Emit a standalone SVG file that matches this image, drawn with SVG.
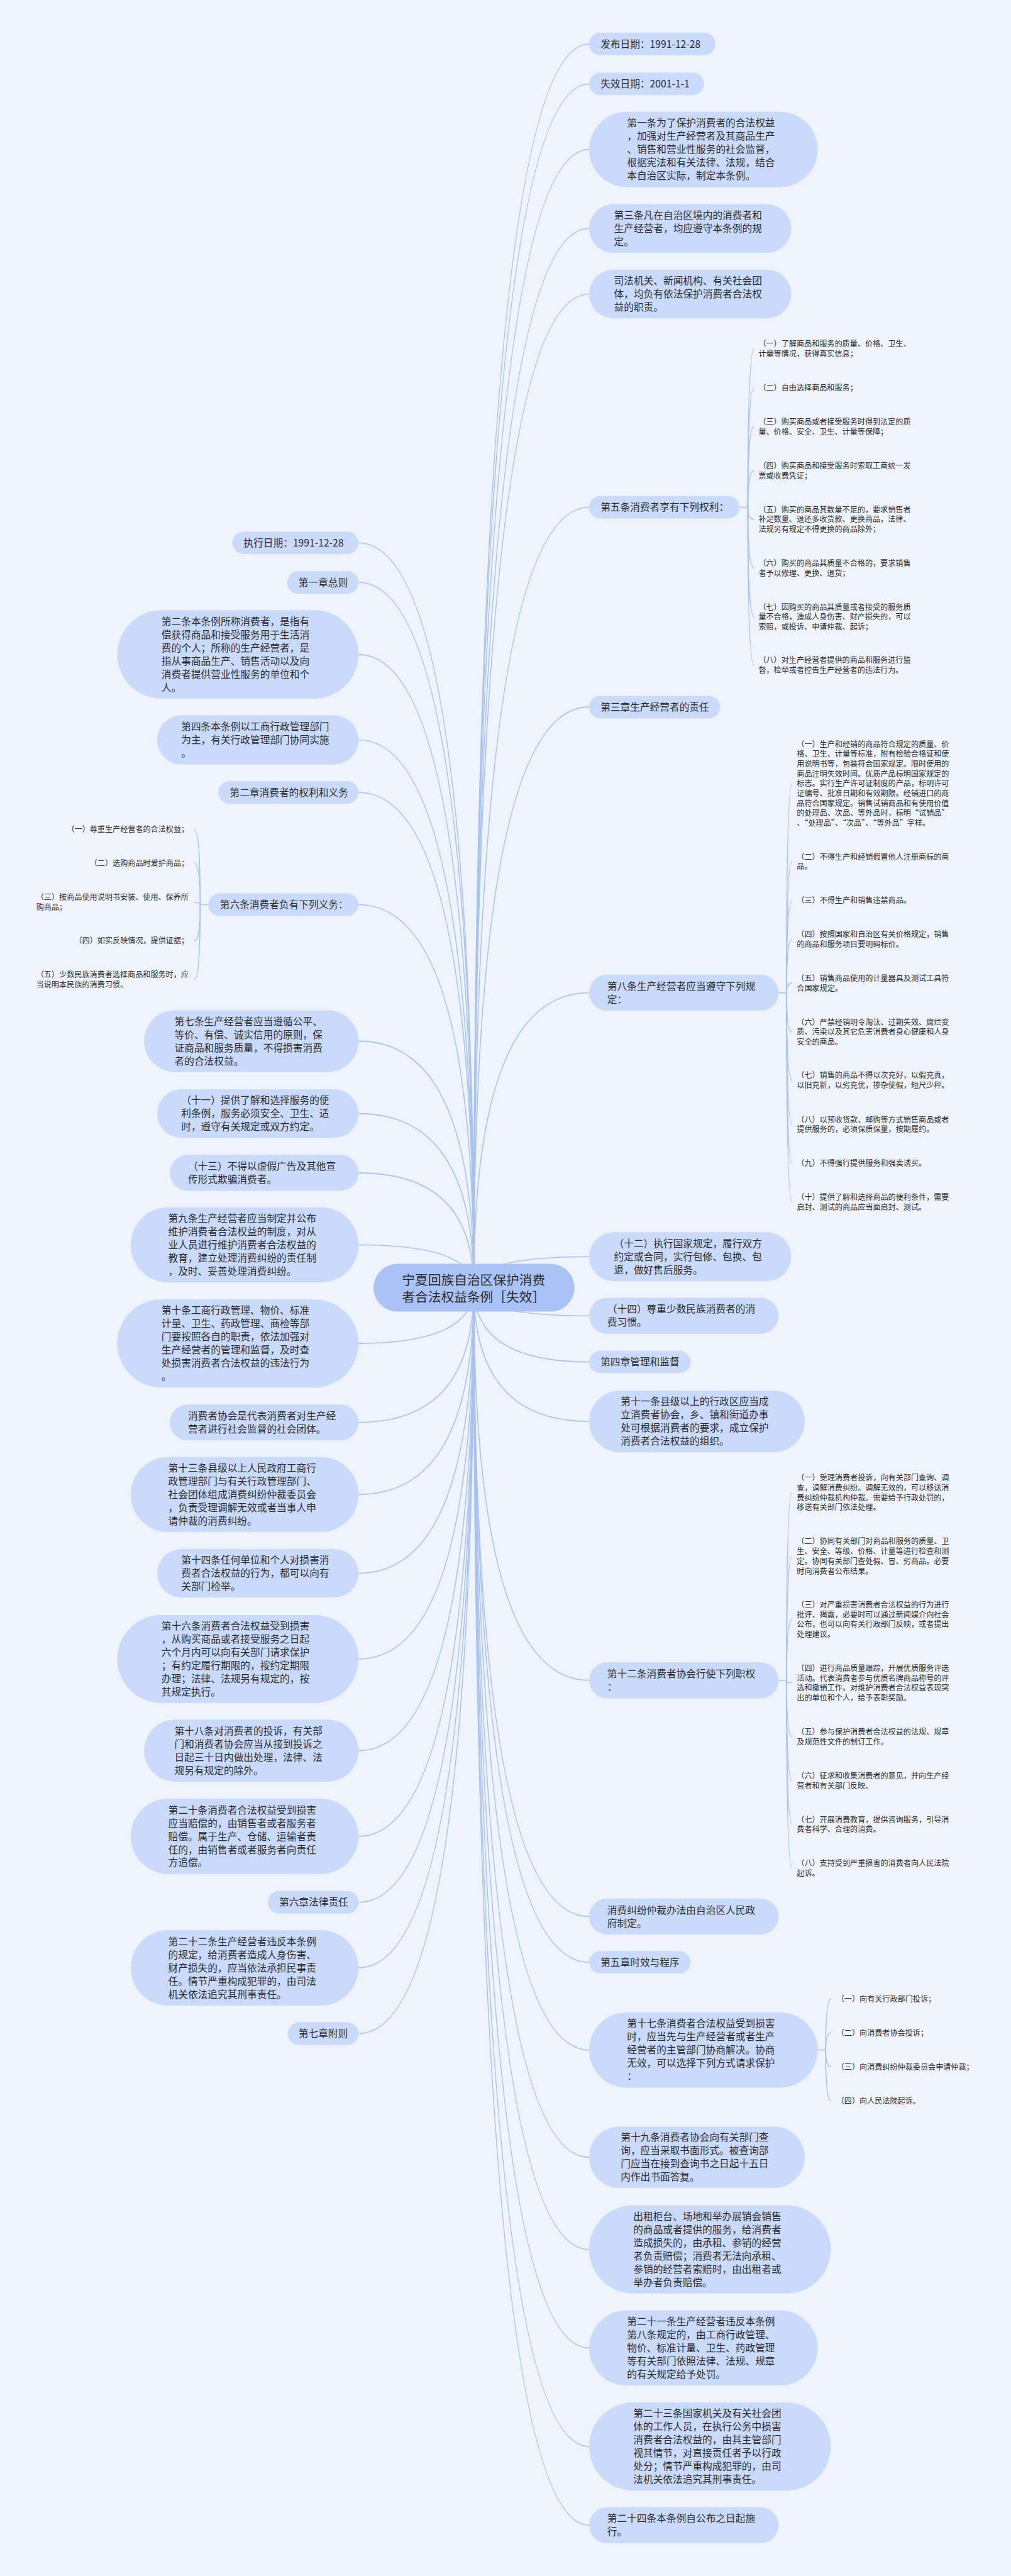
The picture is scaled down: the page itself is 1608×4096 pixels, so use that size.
<svg xmlns="http://www.w3.org/2000/svg" width="1608" height="4096" viewBox="0 0 1608 4096">
<style>
.nd{fill:#c9dafb}
.rt{fill:#aac3f7}
.t{font-family:"Noto Sans CJK SC","Noto Sans",sans-serif;font-size:25px;fill:#2d2d2d}
.s{font-size:19.3px}
.r{font-size:33px}
.e{text-anchor:end}
.ln{fill:none;stroke:#a8c2ef;stroke-width:2.5}
</style>
<rect x="0" y="0" width="1608" height="4096" fill="#eef3fc"/>
<g transform="scale(0.628)">
<g id="connectors">
<path class="ln" d="M1200 3260.5 Q1200 111.5 1492 111.5"/>
<path class="ln" d="M1200 3260.5 Q1200 212.5 1492 212.5"/>
<path class="ln" d="M1200 3260.5 Q1200 378.5 1492 378.5"/>
<path class="ln" d="M1200 3260.5 Q1200 578.5 1492 578.5"/>
<path class="ln" d="M1200 3260.5 Q1200 744.5 1492 744.5"/>
<path class="ln" d="M1200 3260.5 Q1200 1284.5 1492 1284.5"/>
<path class="ln" d="M1200 3260.5 Q1200 1790 1492 1790"/>
<path class="ln" d="M1200 3260.5 Q1200 2513.5 1492 2513.5"/>
<path class="ln" d="M1200 3260.5 Q1200 3182 1492 3182"/>
<path class="ln" d="M1200 3260.5 Q1200 3331.5 1492 3331.5"/>
<path class="ln" d="M1200 3260.5 Q1200 3448.5 1492 3448.5"/>
<path class="ln" d="M1200 3260.5 Q1200 3599 1492 3599"/>
<path class="ln" d="M1200 3260.5 Q1200 4254.5 1492 4254.5"/>
<path class="ln" d="M1200 3260.5 Q1200 4852.5 1492 4852.5"/>
<path class="ln" d="M1200 3260.5 Q1200 4968.5 1492 4968.5"/>
<path class="ln" d="M1200 3260.5 Q1200 5190.5 1492 5190.5"/>
<path class="ln" d="M1200 3260.5 Q1200 5462 1492 5462"/>
<path class="ln" d="M1200 3260.5 Q1200 5695.5 1492 5695.5"/>
<path class="ln" d="M1200 3260.5 Q1200 5945 1492 5945"/>
<path class="ln" d="M1200 3260.5 Q1200 6194.5 1492 6194.5"/>
<path class="ln" d="M1200 3260.5 Q1200 6393.5 1492 6393.5"/>
<path class="ln" d="M1200 3260.5 Q1200 1374.5 908 1374.5"/>
<path class="ln" d="M1200 3260.5 Q1200 1474.5 908 1474.5"/>
<path class="ln" d="M1200 3260.5 Q1200 1657 908 1657"/>
<path class="ln" d="M1200 3260.5 Q1200 1873.5 908 1873.5"/>
<path class="ln" d="M1200 3260.5 Q1200 2006.5 908 2006.5"/>
<path class="ln" d="M1200 3260.5 Q1200 2290.5 908 2290.5"/>
<path class="ln" d="M1200 3260.5 Q1200 2636 908 2636"/>
<path class="ln" d="M1200 3260.5 Q1200 2819.5 908 2819.5"/>
<path class="ln" d="M1200 3260.5 Q1200 2969.5 908 2969.5"/>
<path class="ln" d="M1200 3260.5 Q1200 3152 908 3152"/>
<path class="ln" d="M1200 3260.5 Q1200 3401.5 908 3401.5"/>
<path class="ln" d="M1200 3260.5 Q1200 3601.5 908 3601.5"/>
<path class="ln" d="M1200 3260.5 Q1200 3784 908 3784"/>
<path class="ln" d="M1200 3260.5 Q1200 3983.5 908 3983.5"/>
<path class="ln" d="M1200 3260.5 Q1200 4200.5 908 4200.5"/>
<path class="ln" d="M1200 3260.5 Q1200 4432.5 908 4432.5"/>
<path class="ln" d="M1200 3260.5 Q1200 4649.5 908 4649.5"/>
<path class="ln" d="M1200 3260.5 Q1200 4816.5 908 4816.5"/>
<path class="ln" d="M1200 3260.5 Q1200 4982.5 908 4982.5"/>
<path class="ln" d="M1200 3260.5 Q1200 5149 908 5149"/>
<path class="ln" d="M528 2290.5 L507 2290.5"/>
<path class="ln" d="M507 2290.5 Q507 2100 492 2100"/>
<path class="ln" d="M507 2290.5 Q507 2186 492 2186"/>
<path class="ln" d="M507 2290.5 Q507 2284.5 492 2284.5"/>
<path class="ln" d="M507 2290.5 Q507 2382 492 2382"/>
<path class="ln" d="M507 2290.5 Q507 2480.5 492 2480.5"/>
<path class="ln" d="M1873 1284.5 L1894 1284.5"/>
<path class="ln" d="M1894 1284.5 Q1894 883.5 1910 883.5"/>
<path class="ln" d="M1894 1284.5 Q1894 982 1910 982"/>
<path class="ln" d="M1894 1284.5 Q1894 1080 1910 1080"/>
<path class="ln" d="M1894 1284.5 Q1894 1191.5 1910 1191.5"/>
<path class="ln" d="M1894 1284.5 Q1894 1315 1910 1315"/>
<path class="ln" d="M1894 1284.5 Q1894 1438 1910 1438"/>
<path class="ln" d="M1894 1284.5 Q1894 1562 1910 1562"/>
<path class="ln" d="M1894 1284.5 Q1894 1684.5 1910 1684.5"/>
<path class="ln" d="M1972 2513.5 L1992 2513.5"/>
<path class="ln" d="M1992 2513.5 Q1992 1984 2006 1984"/>
<path class="ln" d="M1992 2513.5 Q1992 2181 2006 2181"/>
<path class="ln" d="M1992 2513.5 Q1992 2280 2006 2280"/>
<path class="ln" d="M1992 2513.5 Q1992 2378.5 2006 2378.5"/>
<path class="ln" d="M1992 2513.5 Q1992 2489.5 2006 2489.5"/>
<path class="ln" d="M1992 2513.5 Q1992 2613 2006 2613"/>
<path class="ln" d="M1992 2513.5 Q1992 2735.5 2006 2735.5"/>
<path class="ln" d="M1992 2513.5 Q1992 2847 2006 2847"/>
<path class="ln" d="M1992 2513.5 Q1992 2946 2006 2946"/>
<path class="ln" d="M1992 2513.5 Q1992 3043.5 2006 3043.5"/>
<path class="ln" d="M1972 4254.5 L1992 4254.5"/>
<path class="ln" d="M1992 4254.5 Q1992 3779 2006 3779"/>
<path class="ln" d="M1992 4254.5 Q1992 3940 2006 3940"/>
<path class="ln" d="M1992 4254.5 Q1992 4100.5 2006 4100.5"/>
<path class="ln" d="M1992 4254.5 Q1992 4261 2006 4261"/>
<path class="ln" d="M1992 4254.5 Q1992 4397.5 2006 4397.5"/>
<path class="ln" d="M1992 4254.5 Q1992 4508.5 2006 4508.5"/>
<path class="ln" d="M1992 4254.5 Q1992 4619 2006 4619"/>
<path class="ln" d="M1992 4254.5 Q1992 4730 2006 4730"/>
<path class="ln" d="M2071 5190.5 L2091 5190.5"/>
<path class="ln" d="M2091 5190.5 Q2091 5061 2105 5061"/>
<path class="ln" d="M2091 5190.5 Q2091 5147 2105 5147"/>
<path class="ln" d="M2091 5190.5 Q2091 5233 2105 5233"/>
<path class="ln" d="M2091 5190.5 Q2091 5319 2105 5319"/>
</g>

<g id="root"><rect class="rt" x="946" y="3200" width="509" height="121" rx="60.5"/>
<text class="t r" x="1018" y="3253"><tspan x="1018">宁夏回族自治区保护消费</tspan><tspan x="1018" dy="43">者合法权益条例［失效］</tspan></text></g>

<g id="r-pub"><rect class="nd" x="1492" y="83" width="320" height="57" rx="28.5"/><text class="t" x="1521" y="120.5">发布日期：1991-12-28</text></g>
<g id="r-exp"><rect class="nd" x="1492" y="184" width="291" height="57" rx="28.5"/><text class="t" x="1521" y="221.5">失效日期：2001-1-1</text></g>
<g id="r-art1"><rect class="nd" x="1492" y="283" width="579" height="191" rx="95.5"/><text class="t" x="1588" y="320.7"><tspan x="1588">第一条为了保护消费者的合法权益</tspan><tspan x="1588" dy="33.4">，加强对生产经营者及其商品生产</tspan><tspan x="1588" dy="33.4">、销售和营业性服务的社会监督，</tspan><tspan x="1588" dy="33.4">根据宪法和有关法律、法规，结合</tspan><tspan x="1588" dy="33.4">本自治区实际，制定本条例。</tspan></text></g>
<g id="r-art3"><rect class="nd" x="1492" y="517" width="512" height="123" rx="61.5"/><text class="t" x="1555" y="554.1"><tspan x="1555">第三条凡在自治区境内的消费者和</tspan><tspan x="1555" dy="33.4">生产经营者，均应遵守本条例的规</tspan><tspan x="1555" dy="33.4">定。</tspan></text></g>
<g id="r-judicial"><rect class="nd" x="1492" y="683" width="512" height="123" rx="61.5"/><text class="t" x="1555" y="720.1"><tspan x="1555">司法机关、新闻机构、有关社会团</tspan><tspan x="1555" dy="33.4">体，均负有依法保护消费者合法权</tspan><tspan x="1555" dy="33.4">益的职责。</tspan></text></g>
<g id="r-art5"><rect class="nd" x="1492" y="1256" width="381" height="57" rx="28.5"/><text class="t" x="1521" y="1293.5">第五条消费者享有下列权利：</text></g>
<g id="r-art5-items">
<text class="t s" x="1921" y="878"><tspan x="1921">（一）了解商品和服务的质量、价格、卫生、</tspan><tspan x="1921" dy="25">计量等情况，获得真实信息；</tspan></text>
<text class="t s" x="1921" y="989">（二）自由选择商品和服务；</text>
<text class="t s" x="1921" y="1075"><tspan x="1921">（三）购买商品或者接受服务时得到法定的质</tspan><tspan x="1921" dy="25">量、价格、安全、卫生、计量等保障；</tspan></text>
<text class="t s" x="1921" y="1186"><tspan x="1921">（四）购买商品和接受服务时索取工商统一发</tspan><tspan x="1921" dy="25">票或收费凭证；</tspan></text>
<text class="t s" x="1921" y="1297"><tspan x="1921">（五）购买的商品其数量不足的，要求销售者</tspan><tspan x="1921" dy="25">补足数量、退还多收货款、更换商品，法律、</tspan><tspan x="1921" dy="25">法规另有规定不得更换的商品除外；</tspan></text>
<text class="t s" x="1921" y="1433"><tspan x="1921">（六）购买的商品其质量不合格的，要求销售</tspan><tspan x="1921" dy="25">者予以修理、更换、退货；</tspan></text>
<text class="t s" x="1921" y="1544"><tspan x="1921">（七）因购买的商品其质量或者接受的服务质</tspan><tspan x="1921" dy="25">量不合格，造成人身伤害、财产损失的，可以</tspan><tspan x="1921" dy="25">索赔，或投诉、申请仲裁、起诉；</tspan></text>
<text class="t s" x="1921" y="1679"><tspan x="1921">（八）对生产经营者提供的商品和服务进行监</tspan><tspan x="1921" dy="25">督，检举或者控告生产经营者的违法行为。</tspan></text>
</g>
<g id="r-ch3"><rect class="nd" x="1492" y="1762" width="332" height="57" rx="28.5"/><text class="t" x="1521" y="1799">第三章生产经营者的责任</text></g>
<g id="r-art8"><rect class="nd" x="1492" y="2468" width="480" height="91" rx="45.5"/><text class="t" x="1538" y="2505.8"><tspan x="1538">第八条生产经营者应当遵守下列规</tspan><tspan x="1538" dy="33.4">定：</tspan></text></g>
<g id="r-art8-items">
<text class="t s" x="2018" y="1891"><tspan x="2018">（一）生产和经销的商品符合规定的质量、价</tspan><tspan x="2018" dy="25">格、卫生、计量等标准，附有检验合格证和使</tspan><tspan x="2018" dy="25">用说明书等，包装符合国家规定。限时使用的</tspan><tspan x="2018" dy="25">商品注明失效时间。优质产品标明国家规定的</tspan><tspan x="2018" dy="25">标志。实行生产许可证制度的产品，标明许可</tspan><tspan x="2018" dy="25">证编号、批准日期和有效期限。经销进口的商</tspan><tspan x="2018" dy="25">品符合国家规定。销售试销商品和有使用价值</tspan><tspan x="2018" dy="25">的处理品、次品、等外品时，标明“试销品”</tspan><tspan x="2018" dy="25">、“处理品”、“次品”、“等外品”字样。</tspan></text>
<text class="t s" x="2018" y="2176"><tspan x="2018">（二）不得生产和经销假冒他人注册商标的商</tspan><tspan x="2018" dy="25">品。</tspan></text>
<text class="t s" x="2018" y="2287">（三）不得生产和销售违禁商品。</text>
<text class="t s" x="2018" y="2373"><tspan x="2018">（四）按照国家和自治区有关价格规定，销售</tspan><tspan x="2018" dy="25">的商品和服务项目要明码标价。</tspan></text>
<text class="t s" x="2018" y="2484"><tspan x="2018">（五）销售商品使用的计量器具及测试工具符</tspan><tspan x="2018" dy="25">合国家规定。</tspan></text>
<text class="t s" x="2018" y="2595"><tspan x="2018">（六）严禁经销明令淘汰、过期失效、腐烂变</tspan><tspan x="2018" dy="25">质、污染以及其它危害消费者身心健康和人身</tspan><tspan x="2018" dy="25">安全的商品。</tspan></text>
<text class="t s" x="2018" y="2730"><tspan x="2018">（七）销售的商品不得以次充好，以假充真，</tspan><tspan x="2018" dy="25">以旧充新，以劣充优，掺杂使假，短尺少秤。</tspan></text>
<text class="t s" x="2018" y="2842"><tspan x="2018">（八）以预收货款、邮购等方式销售商品或者</tspan><tspan x="2018" dy="25">提供服务的，必须保质保量，按期履约。</tspan></text>
<text class="t s" x="2018" y="2953">（九）不得强行提供服务和强卖诱买。</text>
<text class="t s" x="2018" y="3038"><tspan x="2018">（十）提供了解和选择商品的便利条件，需要</tspan><tspan x="2018" dy="25">启封、测试的商品应当面启封、测试。</tspan></text>
</g>
<g id="r-item12"><rect class="nd" x="1492" y="3120" width="512" height="124" rx="62"/><text class="t" x="1555" y="3157.6"><tspan x="1555">（十二）执行国家规定，履行双方</tspan><tspan x="1555" dy="33.4">约定或合同，实行包修、包换、包</tspan><tspan x="1555" dy="33.4">退，做好售后服务。</tspan></text></g>
<g id="r-item14"><rect class="nd" x="1492" y="3286" width="480" height="91" rx="45.5"/><text class="t" x="1538" y="3323.8"><tspan x="1538">（十四）尊重少数民族消费者的消</tspan><tspan x="1538" dy="33.4">费习惯。</tspan></text></g>
<g id="r-ch4"><rect class="nd" x="1492" y="3420" width="257" height="57" rx="28.5"/><text class="t" x="1521" y="3457.5">第四章管理和监督</text></g>
<g id="r-art11"><rect class="nd" x="1492" y="3521" width="546" height="156" rx="78"/><text class="t" x="1572" y="3557.9"><tspan x="1572">第十一条县级以上的行政区应当成</tspan><tspan x="1572" dy="33.4">立消费者协会，乡、镇和街道办事</tspan><tspan x="1572" dy="33.4">处可根据消费者的要求，成立保护</tspan><tspan x="1572" dy="33.4">消费者合法权益的组织。</tspan></text></g>
<g id="r-art12"><rect class="nd" x="1492" y="4209" width="480" height="91" rx="45.5"/><text class="t" x="1538" y="4246.8"><tspan x="1538">第十二条消费者协会行使下列职权</tspan><tspan x="1538" dy="33.4">：</tspan></text></g>
<g id="r-art12-items">
<text class="t s" x="2018" y="3749"><tspan x="2018">（一）受理消费者投诉，向有关部门查询、调</tspan><tspan x="2018" dy="25">查，调解消费纠纷。调解无效的，可以移送消</tspan><tspan x="2018" dy="25">费纠纷仲裁机构仲裁。需要给予行政处罚的，</tspan><tspan x="2018" dy="25">移送有关部门依法处理。</tspan></text>
<text class="t s" x="2018" y="3910"><tspan x="2018">（二）协同有关部门对商品和服务的质量、卫</tspan><tspan x="2018" dy="25">生、安全、等级、价格、计量等进行检查和测</tspan><tspan x="2018" dy="25">定。协同有关部门查处假、冒、劣商品。必要</tspan><tspan x="2018" dy="25">时向消费者公布结果。</tspan></text>
<text class="t s" x="2018" y="4070"><tspan x="2018">（三）对严重损害消费者合法权益的行为进行</tspan><tspan x="2018" dy="25">批评、揭露，必要时可以通过新闻媒介向社会</tspan><tspan x="2018" dy="25">公布，也可以向有关行政部门反映，或者提出</tspan><tspan x="2018" dy="25">处理建议。</tspan></text>
<text class="t s" x="2018" y="4231"><tspan x="2018">（四）进行商品质量跟踪，开展优质服务评选</tspan><tspan x="2018" dy="25">活动。代表消费者参与优质名牌商品称号的评</tspan><tspan x="2018" dy="25">选和撤销工作。对维护消费者合法权益表现突</tspan><tspan x="2018" dy="25">出的单位和个人，给予表彰奖励。</tspan></text>
<text class="t s" x="2018" y="4392"><tspan x="2018">（五）参与保护消费者合法权益的法规、规章</tspan><tspan x="2018" dy="25">及规范性文件的制订工作。</tspan></text>
<text class="t s" x="2018" y="4503"><tspan x="2018">（六）征求和收集消费者的意见，并向生产经</tspan><tspan x="2018" dy="25">营者和有关部门反映。</tspan></text>
<text class="t s" x="2018" y="4614"><tspan x="2018">（七）开展消费教育，提供咨询服务，引导消</tspan><tspan x="2018" dy="25">费者科学、合理的消费。</tspan></text>
<text class="t s" x="2018" y="4725"><tspan x="2018">（八）支持受到严重损害的消费者向人民法院</tspan><tspan x="2018" dy="25">起诉。</tspan></text>
</g>
<g id="r-arbitration"><rect class="nd" x="1492" y="4807" width="480" height="91" rx="45.5"/><text class="t" x="1538" y="4844.8"><tspan x="1538">消费纠纷仲裁办法由自治区人民政</tspan><tspan x="1538" dy="33.4">府制定。</tspan></text></g>
<g id="r-ch5"><rect class="nd" x="1492" y="4940" width="257" height="57" rx="28.5"/><text class="t" x="1521" y="4977.5">第五章时效与程序</text></g>
<g id="r-art17"><rect class="nd" x="1492" y="5095" width="579" height="191" rx="95.5"/><text class="t" x="1588" y="5132.7"><tspan x="1588">第十七条消费者合法权益受到损害</tspan><tspan x="1588" dy="33.4">时，应当先与生产经营者或者生产</tspan><tspan x="1588" dy="33.4">经营者的主管部门协商解决。协商</tspan><tspan x="1588" dy="33.4">无效，可以选择下列方式请求保护</tspan><tspan x="1588" dy="33.4">：</tspan></text></g>
<g id="r-art17-items">
<text class="t s" x="2119" y="5068">（一）向有关行政部门投诉；</text>
<text class="t s" x="2119" y="5154">（二）向消费者协会投诉；</text>
<text class="t s" x="2119" y="5240">（三）向消费纠纷仲裁委员会申请仲裁；</text>
<text class="t s" x="2119" y="5326">（四）向人民法院起诉。</text>
</g>
<g id="r-art19"><rect class="nd" x="1492" y="5384" width="546" height="156" rx="78"/><text class="t" x="1572" y="5420.9"><tspan x="1572">第十九条消费者协会向有关部门查</tspan><tspan x="1572" dy="33.4">询，应当采取书面形式。被查询部</tspan><tspan x="1572" dy="33.4">门应当在接到查询书之日起十五日</tspan><tspan x="1572" dy="33.4">内作出书面答复。</tspan></text></g>
<g id="r-rent"><rect class="nd" x="1492" y="5584" width="612" height="223" rx="111.5"/><text class="t" x="1604" y="5621"><tspan x="1604">出租柜台、场地和举办展销会销售</tspan><tspan x="1604" dy="33.4">的商品或者提供的服务，给消费者</tspan><tspan x="1604" dy="33.4">造成损失的，由承租、参销的经营</tspan><tspan x="1604" dy="33.4">者负责赔偿；消费者无法向承租、</tspan><tspan x="1604" dy="33.4">参销的经营者索赔时，由出租者或</tspan><tspan x="1604" dy="33.4">举办者负责赔偿。</tspan></text></g>
<g id="r-art21"><rect class="nd" x="1492" y="5850" width="579" height="190" rx="95"/><text class="t" x="1588" y="5887.2"><tspan x="1588">第二十一条生产经营者违反本条例</tspan><tspan x="1588" dy="33.4">第八条规定的，由工商行政管理、</tspan><tspan x="1588" dy="33.4">物价、标准计量、卫生、药政管理</tspan><tspan x="1588" dy="33.4">等有关部门依照法律、法规、规章</tspan><tspan x="1588" dy="33.4">的有关规定给予处罚。</tspan></text></g>
<g id="r-art23"><rect class="nd" x="1492" y="6083" width="612" height="223" rx="111.5"/><text class="t" x="1604" y="6120"><tspan x="1604">第二十三条国家机关及有关社会团</tspan><tspan x="1604" dy="33.4">体的工作人员，在执行公务中损害</tspan><tspan x="1604" dy="33.4">消费者合法权益的，由其主管部门</tspan><tspan x="1604" dy="33.4">视其情节，对直接责任者予以行政</tspan><tspan x="1604" dy="33.4">处分；情节严重构成犯罪的，由司</tspan><tspan x="1604" dy="33.4">法机关依法追究其刑事责任。</tspan></text></g>
<g id="r-art24"><rect class="nd" x="1492" y="6348" width="480" height="91" rx="45.5"/><text class="t" x="1538" y="6385.8"><tspan x="1538">第二十四条本条例自公布之日起施</tspan><tspan x="1538" dy="33.4">行。</tspan></text></g>

<g id="l-exec"><rect class="nd" x="589" y="1346" width="319" height="57" rx="28.5"/><text class="t" x="617" y="1383.5">执行日期：1991-12-28</text></g>
<g id="l-ch1"><rect class="nd" x="727" y="1446" width="181" height="57" rx="28.5"/><text class="t" x="756" y="1483.5">第一章总则</text></g>
<g id="l-art2"><rect class="nd" x="297" y="1545" width="611" height="224" rx="112"/><text class="t" x="409" y="1582.5"><tspan x="409">第二条本条例所称消费者，是指有</tspan><tspan x="409" dy="33.4">偿获得商品和接受服务用于生活消</tspan><tspan x="409" dy="33.4">费的个人；所称的生产经营者，是</tspan><tspan x="409" dy="33.4">指从事商品生产、销售活动以及向</tspan><tspan x="409" dy="33.4">消费者提供营业性服务的单位和个</tspan><tspan x="409" dy="33.4">人。</tspan></text></g>
<g id="l-art4"><rect class="nd" x="398" y="1811" width="510" height="125" rx="62.5"/><text class="t" x="459" y="1849.1"><tspan x="459">第四条本条例以工商行政管理部门</tspan><tspan x="459" dy="33.4">为主，有关行政管理部门协同实施</tspan><tspan x="459" dy="33.4">。</tspan></text></g>
<g id="l-ch2"><rect class="nd" x="553" y="1978" width="355" height="57" rx="28.5"/><text class="t" x="582" y="2015.5">第二章消费者的权利和义务</text></g>
<g id="l-art6"><rect class="nd" x="528" y="2262" width="380" height="57" rx="28.5"/><text class="t" x="557" y="2299.5">第六条消费者负有下列义务：</text></g>
<g id="l-art6-items">
<text class="t s e" x="478" y="2107">（一）尊重生产经营者的合法权益；</text>
<text class="t s e" x="478" y="2193">（二）选购商品时爱护商品；</text>
<text class="t s" x="92" y="2279"><tspan x="92">（三）按商品使用说明书安装、使用、保养所</tspan><tspan x="92" dy="25">购商品；</tspan></text>
<text class="t s e" x="478" y="2389">（四）如实反映情况，提供证据；</text>
<text class="t s" x="92" y="2475"><tspan x="92">（五）少数民族消费者选择商品和服务时，应</tspan><tspan x="92" dy="25">当说明本民族的消费习惯。</tspan></text>
</g>
<g id="l-art7"><rect class="nd" x="365" y="2558" width="543" height="156" rx="78"/><text class="t" x="442" y="2594.9"><tspan x="442">第七条生产经营者应当遵循公平、</tspan><tspan x="442" dy="33.4">等价、有偿、诚实信用的原则，保</tspan><tspan x="442" dy="33.4">证商品和服务质量，不得损害消费</tspan><tspan x="442" dy="33.4">者的合法权益。</tspan></text></g>
<g id="l-item11"><rect class="nd" x="398" y="2758" width="510" height="123" rx="61.5"/><text class="t" x="459" y="2795.1"><tspan x="459">（十一）提供了解和选择服务的便</tspan><tspan x="459" dy="33.4">利条例，服务必须安全、卫生、适</tspan><tspan x="459" dy="33.4">时，遵守有关规定或双方约定。</tspan></text></g>
<g id="l-item13"><rect class="nd" x="430" y="2924" width="478" height="91" rx="45.5"/><text class="t" x="476" y="2961.8"><tspan x="476">（十三）不得以虚假广告及其他宣</tspan><tspan x="476" dy="33.4">传形式欺骗消费者。</tspan></text></g>
<g id="l-art9"><rect class="nd" x="331" y="3057" width="577" height="190" rx="95"/><text class="t" x="426" y="3094.2"><tspan x="426">第九条生产经营者应当制定并公布</tspan><tspan x="426" dy="33.4">维护消费者合法权益的制度，对从</tspan><tspan x="426" dy="33.4">业人员进行维护消费者合法权益的</tspan><tspan x="426" dy="33.4">教育，建立处理消费纠纷的责任制</tspan><tspan x="426" dy="33.4">，及时、妥善处理消费纠纷。</tspan></text></g>
<g id="l-art10"><rect class="nd" x="297" y="3290" width="611" height="223" rx="111.5"/><text class="t" x="409" y="3327"><tspan x="409">第十条工商行政管理、物价、标准</tspan><tspan x="409" dy="33.4">计量、卫生、药政管理、商检等部</tspan><tspan x="409" dy="33.4">门要按照各自的职责，依法加强对</tspan><tspan x="409" dy="33.4">生产经营者的管理和监督，及时查</tspan><tspan x="409" dy="33.4">处损害消费者合法权益的违法行为</tspan><tspan x="409" dy="33.4">。</tspan></text></g>
<g id="l-assoc"><rect class="nd" x="430" y="3556" width="478" height="91" rx="45.5"/><text class="t" x="476" y="3593.8"><tspan x="476">消费者协会是代表消费者对生产经</tspan><tspan x="476" dy="33.4">营者进行社会监督的社会团体。</tspan></text></g>
<g id="l-art13"><rect class="nd" x="331" y="3689" width="577" height="190" rx="95"/><text class="t" x="426" y="3726.2"><tspan x="426">第十三条县级以上人民政府工商行</tspan><tspan x="426" dy="33.4">政管理部门与有关行政管理部门、</tspan><tspan x="426" dy="33.4">社会团体组成消费纠纷仲裁委员会</tspan><tspan x="426" dy="33.4">，负责受理调解无效或者当事人申</tspan><tspan x="426" dy="33.4">请仲裁的消费纠纷。</tspan></text></g>
<g id="l-art14"><rect class="nd" x="398" y="3922" width="510" height="123" rx="61.5"/><text class="t" x="459" y="3959.1"><tspan x="459">第十四条任何单位和个人对损害消</tspan><tspan x="459" dy="33.4">费者合法权益的行为，都可以向有</tspan><tspan x="459" dy="33.4">关部门检举。</tspan></text></g>
<g id="l-art16"><rect class="nd" x="297" y="4089" width="611" height="223" rx="111.5"/><text class="t" x="409" y="4126"><tspan x="409">第十六条消费者合法权益受到损害</tspan><tspan x="409" dy="33.4">，从购买商品或者接受服务之日起</tspan><tspan x="409" dy="33.4">六个月内可以向有关部门请求保护</tspan><tspan x="409" dy="33.4">；有约定履行期限的，按约定期限</tspan><tspan x="409" dy="33.4">办理；法律、法规另有规定的，按</tspan><tspan x="409" dy="33.4">其规定执行。</tspan></text></g>
<g id="l-art18"><rect class="nd" x="365" y="4354" width="543" height="157" rx="78.5"/><text class="t" x="442" y="4391.4"><tspan x="442">第十八条对消费者的投诉，有关部</tspan><tspan x="442" dy="33.4">门和消费者协会应当从接到投诉之</tspan><tspan x="442" dy="33.4">日起三十日内做出处理，法律、法</tspan><tspan x="442" dy="33.4">规另有规定的除外。</tspan></text></g>
<g id="l-art20"><rect class="nd" x="331" y="4554" width="577" height="191" rx="95.5"/><text class="t" x="426" y="4591.7"><tspan x="426">第二十条消费者合法权益受到损害</tspan><tspan x="426" dy="33.4">应当赔偿的，由销售者或者服务者</tspan><tspan x="426" dy="33.4">赔偿。属于生产、仓储、运输者责</tspan><tspan x="426" dy="33.4">任的，由销售者或者服务者向责任</tspan><tspan x="426" dy="33.4">方追偿。</tspan></text></g>
<g id="l-ch6"><rect class="nd" x="678" y="4788" width="230" height="57" rx="28.5"/><text class="t" x="707" y="4825.5">第六章法律责任</text></g>
<g id="l-art22"><rect class="nd" x="331" y="4887" width="577" height="191" rx="95.5"/><text class="t" x="426" y="4924.7"><tspan x="426">第二十二条生产经营者违反本条例</tspan><tspan x="426" dy="33.4">的规定，给消费者造成人身伤害、</tspan><tspan x="426" dy="33.4">财产损失的，应当依法承担民事责</tspan><tspan x="426" dy="33.4">任。情节严重构成犯罪的，由司法</tspan><tspan x="426" dy="33.4">机关依法追究其刑事责任。</tspan></text></g>
<g id="l-ch7"><rect class="nd" x="729" y="5120" width="179" height="58" rx="29"/><text class="t" x="756" y="5158">第七章附则</text></g>
</g>
</svg>
